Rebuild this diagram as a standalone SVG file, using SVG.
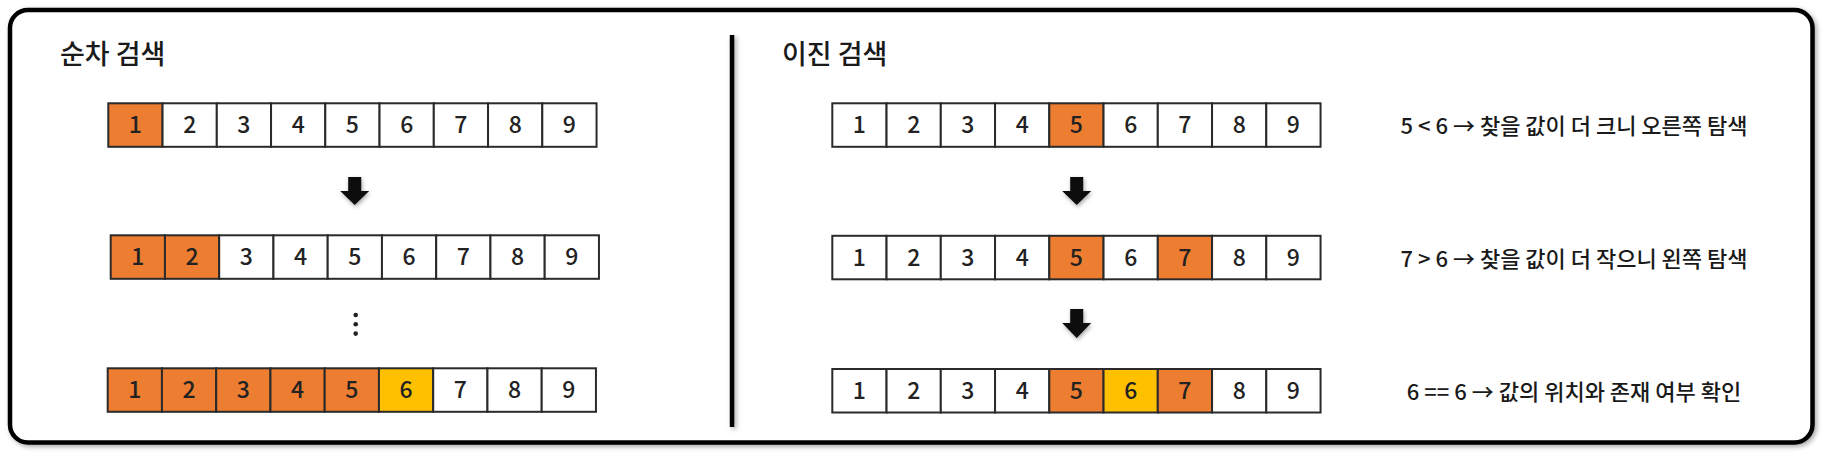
<svg xmlns="http://www.w3.org/2000/svg" width="1830" height="453" viewBox="0 0 1830 453">
<defs>
<filter id="sh" filterUnits="userSpaceOnUse" x="0" y="0" width="1830" height="453">
<feDropShadow dx="2" dy="2" stdDeviation="2.5" flood-color="#000" flood-opacity="0.35"/>
</filter>
<filter id="ash" filterUnits="userSpaceOnUse" x="0" y="0" width="1830" height="453">
<feDropShadow dx="1" dy="2" stdDeviation="2" flood-color="#000" flood-opacity="0.35"/>
</filter>
</defs>
<style>
.c{fill:#fff;stroke:#2a2a2a;stroke-width:2}
.o{fill:#ED7D31}
.y{fill:#FFC000}
.n{font-family:"Noto Sans CJK KR","Noto Sans",sans-serif;font-size:23px;font-weight:500;fill:#222;text-anchor:middle}
.t{font-family:"Noto Sans CJK KR",sans-serif;font-size:27px;font-weight:500;fill:#1a1a1a}
.d{font-family:"Noto Sans CJK KR",sans-serif;font-size:22px;font-weight:500;fill:#1a1a1a;text-anchor:middle}
.ar{fill:#111}
</style>
<rect width="1830" height="453" fill="#fff"/>
<rect x="10" y="10" width="1802.5" height="432.5" rx="18" ry="18" fill="#fff" stroke="#000" stroke-width="4.5" filter="url(#sh)"/>
<rect id="divider" x="729.8" y="35" width="4.5" height="392" fill="#000" filter="url(#sh)"/>
<g id="title-seq"><text class="t" x="60" y="64">순차 검색</text></g>
<g id="title-bin"><text class="t" x="782" y="64">이진 검색</text></g>

<g id="seq-row1" transform="translate(108.3,103.3)">
<rect class="c o" x="0" y="0" width="54.25" height="43.5"/>
<rect class="c" x="54.25" y="0" width="54.25" height="43.5"/>
<rect class="c" x="108.5" y="0" width="54.25" height="43.5"/>
<rect class="c" x="162.75" y="0" width="54.25" height="43.5"/>
<rect class="c" x="217" y="0" width="54.25" height="43.5"/>
<rect class="c" x="271.25" y="0" width="54.25" height="43.5"/>
<rect class="c" x="325.5" y="0" width="54.25" height="43.5"/>
<rect class="c" x="379.75" y="0" width="54.25" height="43.5"/>
<rect class="c" x="434" y="0" width="54.25" height="43.5"/>
<text class="n" x="27.1" y="30">1</text><text class="n" x="81.4" y="30">2</text><text class="n" x="135.6" y="30">3</text><text class="n" x="189.9" y="30">4</text><text class="n" x="244.1" y="30">5</text><text class="n" x="298.4" y="30">6</text><text class="n" x="352.6" y="30">7</text><text class="n" x="406.9" y="30">8</text><text class="n" x="461.1" y="30">9</text>
</g>
<g id="seq-row2" transform="translate(110.7,235.3)">
<rect class="c o" x="0" y="0" width="54.25" height="43.5"/>
<rect class="c o" x="54.25" y="0" width="54.25" height="43.5"/>
<rect class="c" x="108.5" y="0" width="54.25" height="43.5"/>
<rect class="c" x="162.75" y="0" width="54.25" height="43.5"/>
<rect class="c" x="217" y="0" width="54.25" height="43.5"/>
<rect class="c" x="271.25" y="0" width="54.25" height="43.5"/>
<rect class="c" x="325.5" y="0" width="54.25" height="43.5"/>
<rect class="c" x="379.75" y="0" width="54.25" height="43.5"/>
<rect class="c" x="434" y="0" width="54.25" height="43.5"/>
<text class="n" x="27.1" y="30">1</text><text class="n" x="81.4" y="30">2</text><text class="n" x="135.6" y="30">3</text><text class="n" x="189.9" y="30">4</text><text class="n" x="244.1" y="30">5</text><text class="n" x="298.4" y="30">6</text><text class="n" x="352.6" y="30">7</text><text class="n" x="406.9" y="30">8</text><text class="n" x="461.1" y="30">9</text>
</g>
<g id="seq-row3" transform="translate(107.7,368.3)">
<rect class="c o" x="0" y="0" width="54.25" height="43.5"/>
<rect class="c o" x="54.25" y="0" width="54.25" height="43.5"/>
<rect class="c o" x="108.5" y="0" width="54.25" height="43.5"/>
<rect class="c o" x="162.75" y="0" width="54.25" height="43.5"/>
<rect class="c o" x="217" y="0" width="54.25" height="43.5"/>
<rect class="c y" x="271.25" y="0" width="54.25" height="43.5"/>
<rect class="c" x="325.5" y="0" width="54.25" height="43.5"/>
<rect class="c" x="379.75" y="0" width="54.25" height="43.5"/>
<rect class="c" x="434" y="0" width="54.25" height="43.5"/>
<text class="n" x="27.1" y="30">1</text><text class="n" x="81.4" y="30">2</text><text class="n" x="135.6" y="30">3</text><text class="n" x="189.9" y="30">4</text><text class="n" x="244.1" y="30">5</text><text class="n" x="298.4" y="30">6</text><text class="n" x="352.6" y="30">7</text><text class="n" x="406.9" y="30">8</text><text class="n" x="461.1" y="30">9</text>
</g>
<g id="seq-ellipsis" fill="#222">
<circle cx="355.7" cy="315" r="2.3"/><circle cx="355.7" cy="324.3" r="2.3"/><circle cx="355.7" cy="333.6" r="2.3"/>
</g>

<g id="bin-row1" transform="translate(832.3,103.3)">
<rect class="c" x="0" y="0" width="54.25" height="43.5"/>
<rect class="c" x="54.25" y="0" width="54.25" height="43.5"/>
<rect class="c" x="108.5" y="0" width="54.25" height="43.5"/>
<rect class="c" x="162.75" y="0" width="54.25" height="43.5"/>
<rect class="c o" x="217" y="0" width="54.25" height="43.5"/>
<rect class="c" x="271.25" y="0" width="54.25" height="43.5"/>
<rect class="c" x="325.5" y="0" width="54.25" height="43.5"/>
<rect class="c" x="379.75" y="0" width="54.25" height="43.5"/>
<rect class="c" x="434" y="0" width="54.25" height="43.5"/>
<text class="n" x="27.1" y="30">1</text><text class="n" x="81.4" y="30">2</text><text class="n" x="135.6" y="30">3</text><text class="n" x="189.9" y="30">4</text><text class="n" x="244.1" y="30">5</text><text class="n" x="298.4" y="30">6</text><text class="n" x="352.6" y="30">7</text><text class="n" x="406.9" y="30">8</text><text class="n" x="461.1" y="30">9</text>
</g>
<g id="bin-row2" transform="translate(832.3,235.8)">
<rect class="c" x="0" y="0" width="54.25" height="43.5"/>
<rect class="c" x="54.25" y="0" width="54.25" height="43.5"/>
<rect class="c" x="108.5" y="0" width="54.25" height="43.5"/>
<rect class="c" x="162.75" y="0" width="54.25" height="43.5"/>
<rect class="c o" x="217" y="0" width="54.25" height="43.5"/>
<rect class="c" x="271.25" y="0" width="54.25" height="43.5"/>
<rect class="c o" x="325.5" y="0" width="54.25" height="43.5"/>
<rect class="c" x="379.75" y="0" width="54.25" height="43.5"/>
<rect class="c" x="434" y="0" width="54.25" height="43.5"/>
<text class="n" x="27.1" y="30">1</text><text class="n" x="81.4" y="30">2</text><text class="n" x="135.6" y="30">3</text><text class="n" x="189.9" y="30">4</text><text class="n" x="244.1" y="30">5</text><text class="n" x="298.4" y="30">6</text><text class="n" x="352.6" y="30">7</text><text class="n" x="406.9" y="30">8</text><text class="n" x="461.1" y="30">9</text>
</g>
<g id="bin-row3" transform="translate(832.3,369)">
<rect class="c" x="0" y="0" width="54.25" height="43.5"/>
<rect class="c" x="54.25" y="0" width="54.25" height="43.5"/>
<rect class="c" x="108.5" y="0" width="54.25" height="43.5"/>
<rect class="c" x="162.75" y="0" width="54.25" height="43.5"/>
<rect class="c o" x="217" y="0" width="54.25" height="43.5"/>
<rect class="c y" x="271.25" y="0" width="54.25" height="43.5"/>
<rect class="c o" x="325.5" y="0" width="54.25" height="43.5"/>
<rect class="c" x="379.75" y="0" width="54.25" height="43.5"/>
<rect class="c" x="434" y="0" width="54.25" height="43.5"/>
<text class="n" x="27.1" y="30">1</text><text class="n" x="81.4" y="30">2</text><text class="n" x="135.6" y="30">3</text><text class="n" x="189.9" y="30">4</text><text class="n" x="244.1" y="30">5</text><text class="n" x="298.4" y="30">6</text><text class="n" x="352.6" y="30">7</text><text class="n" x="406.9" y="30">8</text><text class="n" x="461.1" y="30">9</text>
</g>

<g id="desc1"><text class="d" x="1574" y="133.5">5 &lt; 6 → 찾을 값이 더 크니 오른쪽 탐색</text></g>
<g id="desc2"><text class="d" x="1574" y="267">7 &gt; 6 → 찾을 값이 더 작으니 왼쪽 탐색</text></g>
<g id="desc3"><text class="d" x="1574" y="399.5">6 == 6 → 값의 위치와 존재 여부 확인</text></g>

<g id="connectors" class="ar" filter="url(#ash)">
<polygon points="348.2,177 361.2,177 361.2,191 369.2,191 354.7,205 340.2,191 348.2,191"/>
<polygon points="1070.2,177 1083.2,177 1083.2,191 1091.2,191 1076.7,205 1062.2,191 1070.2,191"/>
<polygon points="1070.2,309 1083.2,309 1083.2,323 1091.2,323 1076.7,338 1062.2,323 1070.2,323"/>
</g>
</svg>
